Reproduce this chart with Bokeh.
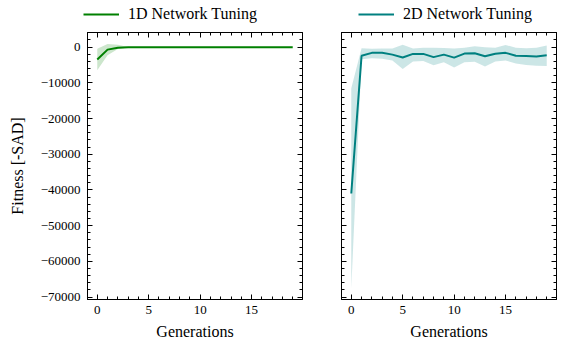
from bokeh.plotting import figure
from bokeh.layouts import row, column
from bokeh.models import (Range1d, LinearAxis, SingleIntervalTicker,
                          CustomJSTickFormatter, Legend, LegendItem)
from bokeh.embed import file_html
from bokeh.resources import INLINE

# Generations
gens = list(range(20))

# 1D network tuning: mean fitness and spread band
d1_mean = [-3450, -700, -150, -20, 0, 0, 0, 0, 0, 0, 0, 0, 0, 0, 0, 0, 0, 0, 0, 0]
d1_upper = [-450, 900, 650, 60, 0, 0, 0, 0, 0, 0, 0, 0, 0, 0, 0, 0, 0, 0, 0, 0]
d1_lower = [-6500, -2300, -550, -80, 0, 0, 0, 0, 0, 0, 0, 0, 0, 0, 0, 0, 0, 0, 0, 0]

# 2D network tuning: mean fitness and spread band
d2_mean = [-41000, -2400, -1600, -1600, -2100, -2900, -1900, -1900, -2800, -2100,
           -2950, -1800, -1700, -2550, -1850, -1600, -2400, -2500, -2600, -2250]
d2_upper = [-11500, -300, -450, -350, -350, 650, -350, -200, -200, -250,
            -400, -150, 250, -50, -150, 600, -150, -300, -150, 450]
d2_lower = [-67700, -3400, -3100, -3250, -3750, -6100, -4000, -3900, -5100, -4200,
            -5700, -4200, -4100, -5400, -4000, -3750, -4600, -5000, -5200, -5250]

labels = ["1D Network Tuning", "2D Network Tuning"]
colors = ["#008000", "#008080"]

FONT = "Liberation Serif"
X_RANGE = (-0.95, 19.95)
Y_RANGE = (-70700, 4100)
HEADER_H = 24

minus_fmt = CustomJSTickFormatter(
    code="return tick < 0 ? '\\u2212' + Math.abs(tick) : tick.toString();")


def empty_fmt():
    return CustomJSTickFormatter(code="return '';")


def style_axis(ax, labels_on=True):
    ax.axis_line_color = "black"
    ax.axis_line_width = 1
    ax.major_tick_in = 5
    ax.major_tick_out = 0
    ax.minor_tick_in = 3
    ax.minor_tick_out = 0
    ax.major_tick_line_color = "black"
    ax.minor_tick_line_color = "black"
    ax.major_label_text_font = FONT
    ax.major_label_text_font_size = "13px"
    ax.major_label_text_color = "black"
    ax.axis_label_text_font = FONT
    ax.axis_label_text_font_size = "16px"
    ax.axis_label_text_font_style = "normal"
    ax.axis_label_text_color = "black"
    if not labels_on:
        ax.major_label_standoff = 0
        ax.axis_label_standoff = 0


def make_panel(mean, upper, lower, color, width, bl, br, show_y):
    p = figure(width=width, height=349 - HEADER_H, output_backend="svg",
               toolbar_location=None,
               x_range=Range1d(*X_RANGE), y_range=Range1d(*Y_RANGE),
               min_border_left=bl, min_border_right=br,
               min_border_top=32 - HEADER_H, min_border_bottom=50)
    p.xgrid.visible = False
    p.ygrid.visible = False
    p.outline_line_color = "black"
    p.outline_line_width = 1
    p.background_fill_color = "white"
    p.border_fill_color = "white"

    p.xaxis.ticker = SingleIntervalTicker(interval=5, num_minor_ticks=5)
    p.xaxis.axis_label = "Generations"
    p.xaxis.major_label_standoff = 6
    p.xaxis.axis_label_standoff = 6
    style_axis(p.xaxis[0])

    p.yaxis.ticker = SingleIntervalTicker(interval=10000, num_minor_ticks=5)
    if show_y:
        p.yaxis.formatter = minus_fmt
        p.yaxis.axis_label = "Fitness [-SAD]"
        p.yaxis.major_label_standoff = 7
        p.yaxis.axis_label_standoff = 12
        style_axis(p.yaxis[0])
    else:
        p.yaxis.formatter = empty_fmt()
        style_axis(p.yaxis[0], labels_on=False)

    # mirrored tick marks on the top and right edges
    top = LinearAxis(ticker=SingleIntervalTicker(interval=5, num_minor_ticks=5),
                     formatter=empty_fmt())
    style_axis(top, labels_on=False)
    p.add_layout(top, "above")
    right = LinearAxis(ticker=SingleIntervalTicker(interval=10000, num_minor_ticks=5),
                       formatter=empty_fmt())
    style_axis(right, labels_on=False)
    p.add_layout(right, "right")

    p.varea(x=gens, y1=lower, y2=upper, fill_color=color, fill_alpha=0.2)
    p.line(x=gens, y=mean, line_color=color, line_width=2)
    return p


def make_header(width, mean, color, label, legend_x):
    # legend strip: the key line carries the series but sits outside the visible range
    h = figure(width=width, height=HEADER_H, output_backend="svg",
               toolbar_location=None, x_axis_type=None, y_axis_type=None,
               x_range=Range1d(*X_RANGE), y_range=Range1d(10**7, 10**7 + 1),
               min_border=0)
    h.xgrid.visible = False
    h.ygrid.visible = False
    h.outline_line_color = None
    h.background_fill_color = "white"
    h.border_fill_color = "white"
    key = h.line(x=gens, y=mean, line_color=color, line_width=2)
    legend = Legend(items=[LegendItem(label=label, renderers=[key])],
                    location=(legend_x, 1))
    legend.padding = 0
    legend.margin = 0
    legend.spacing = 0
    legend.glyph_width = 36
    legend.glyph_height = 18
    legend.label_height = 18
    legend.label_standoff = 9
    legend.label_text_font = FONT
    legend.label_text_font_size = "16px"
    legend.label_text_color = "black"
    legend.border_line_alpha = 0
    legend.background_fill_alpha = 0
    h.add_layout(legend)
    return h


p1 = make_panel(d1_mean, d1_upper, d1_lower, colors[0], width=321, bl=87, br=19, show_y=True)
p2 = make_panel(d2_mean, d2_upper, d2_lower, colors[1], width=241, bl=20, br=6, show_y=False)
h1 = make_header(321, d1_mean, colors[0], labels[0], legend_x=83)
h2 = make_header(241, d2_mean, colors[1], labels[1], legend_x=37)

layout = column(row(h1, h2), row(p1, p2))
open("out.html", "w").write(file_html(layout, INLINE))
